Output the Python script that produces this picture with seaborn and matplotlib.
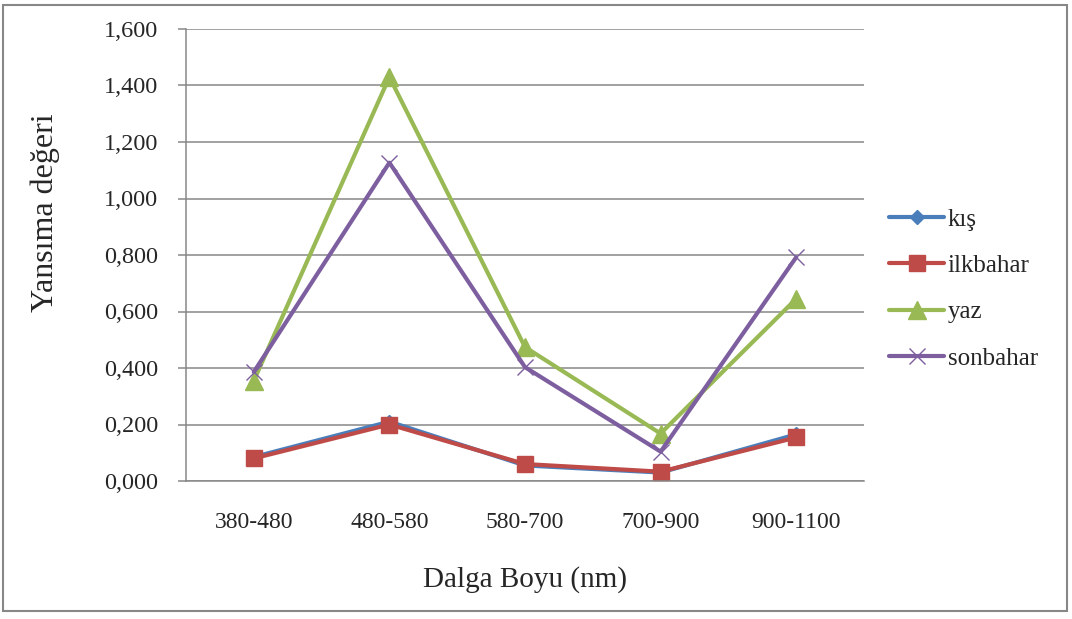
import matplotlib
matplotlib.use("Agg")
import matplotlib.pyplot as plt
import matplotlib.patches as mpatches
from matplotlib.ticker import FuncFormatter, FixedLocator
import seaborn as sns
import pandas as pd

categories = ["380-480", "480-580", "580-700", "700-900", "900-1100"]
kis = [0.085, 0.21, 0.055, 0.03, 0.165]
ilkbahar = [0.080, 0.200, 0.060, 0.033, 0.154]
yaz = [0.355, 1.430, 0.474, 0.168, 0.645]
sonbahar = [0.386, 1.127, 0.403, 0.104, 0.792]
series_names = ["kış", "ilkbahar", "yaz", "sonbahar"]

sns.set_style("white")
plt.rcParams["font.family"] = ["Liberation Serif", "DejaVu Serif"]

fig = plt.figure(figsize=(10.72, 6.19), dpi=100)
ax = fig.add_axes([186 / 1072, 1 - 481 / 619, (864 - 186) / 1072, (481 - 29) / 619])

styles = {
    "kış": dict(color="#4A7EBB", marker="D", markersize=7),
    "ilkbahar": dict(color="#BE4B48", marker="s", markersize=12),
    "yaz": dict(color="#98B954", marker="^", markersize=13),
    "sonbahar": dict(color="#7D5FA0", marker="x", markersize=12, markeredgewidth=1),
}
values = {"kış": kis, "ilkbahar": ilkbahar, "yaz": yaz, "sonbahar": sonbahar}

for name in series_names:
    df = pd.DataFrame({"band": categories, "val": values[name]})
    st = styles[name]
    sns.lineplot(data=df, x="band", y="val", ax=ax, sort=False, label=name,
                 color=st["color"], marker=st["marker"], markersize=st["markersize"],
                 markeredgecolor=st["color"], markeredgewidth=st.get("markeredgewidth", 1),
                 linewidth=3.0)

ax.set_xlim(-0.5, 4.5)
ax.set_ylim(0, 1.6)
ax.set_yticks([i * 0.2 for i in range(9)])
ax.yaxis.set_major_formatter(FuncFormatter(lambda v, p: f"{v:.3f}".replace(".", ",")))
ax.grid(axis="y", color="#878787", linewidth=1.1)
ax.set_axisbelow(True)
for s in ["top", "right"]:
    ax.spines[s].set_visible(False)
for s in ["left", "bottom"]:
    ax.spines[s].set_color("#878787")
    ax.spines[s].set_linewidth(1.1)

ax.xaxis.set_minor_locator(FixedLocator([-0.5, 0.5, 1.5, 2.5, 3.5, 4.5]))
ax.tick_params(axis="x", which="major", length=0, pad=22, labelsize=17)
ax.tick_params(axis="x", which="minor", length=7, color="#878787", width=1.1, direction="out")
ax.tick_params(axis="y", length=6, color="#878787", width=1.1, direction="out", pad=14, labelsize=17.5, left=True)

ax.set_xlabel("Dalga Boyu (nm)", fontsize=21)
ax.set_ylabel("Yansıma değeri", fontsize=23)
ax.xaxis.set_label_coords(0.5, (481 - 580) / 452)
ax.xaxis.label.set_va("center")
ax.yaxis.set_label_coords((45 - 186) / 678, (481 - 213) / 452)
ax.yaxis.label.set_va("center")

leg = ax.legend(loc="center left", bbox_to_anchor=(889 / 1072, 1 - 289 / 619),
                bbox_transform=fig.transFigure, frameon=False, fontsize=18,
                handlelength=2.2, handletextpad=0.15, labelspacing=0.95,
                borderpad=0, borderaxespad=0)

fig.patches.append(mpatches.Rectangle((3 / 1072, 8 / 619), 1064 / 1072, 606 / 619,
                                      transform=fig.transFigure, fill=False,
                                      edgecolor="#878787", linewidth=1.5))

fig.savefig("out.png", dpi=100)
